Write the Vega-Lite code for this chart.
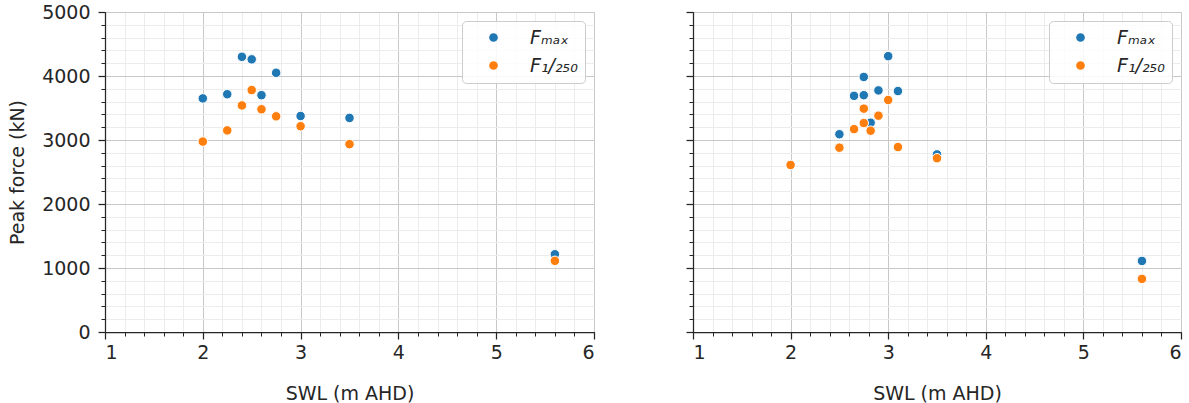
{
  "$schema": "https://vega.github.io/schema/vega-lite/v6.json",
  "padding": {"left": 8, "top": 3, "right": 3, "bottom": 0},
  "config": {
    "view": {"stroke": null},
    "font": "DejaVu Sans",
    "axis": {"labelColor": "#262626", "titleColor": "#262626", "tickColor": "#262626", "domainColor": "#262626", "titleFontWeight": "normal"},
    "legend": {"title": " ", "titleOrient": "left", "titleFontSize": 1, "titlePadding": 15, "orient": "top-right", "offset": 9, "padding": 7, "fillColor": "rgba(255,255,255,0.85)", "strokeColor": "#cccccc", "cornerRadius": 4, "symbolType": "circle", "symbolSize": 75, "symbolStrokeWidth": 0, "labelFontSize": 19, "labelFontStyle": "italic", "labelOffset": 27, "rowPadding": 8, "labelColor": "#262626"}
  },
  "datasets": {
    "left": [
      {"swl": 2.0, "force": 3650, "series": "Fₘₐₓ"},
      {"swl": 2.25, "force": 3715, "series": "Fₘₐₓ"},
      {"swl": 2.4, "force": 4300, "series": "Fₘₐₓ"},
      {"swl": 2.5, "force": 4260, "series": "Fₘₐₓ"},
      {"swl": 2.6, "force": 3700, "series": "Fₘₐₓ"},
      {"swl": 2.75, "force": 4050, "series": "Fₘₐₓ"},
      {"swl": 3.0, "force": 3375, "series": "Fₘₐₓ"},
      {"swl": 3.5, "force": 3345, "series": "Fₘₐₓ"},
      {"swl": 5.6, "force": 1215, "series": "Fₘₐₓ"},
      {"swl": 2.0, "force": 2975, "series": "F₁/₂₅₀"},
      {"swl": 2.25, "force": 3150, "series": "F₁/₂₅₀"},
      {"swl": 2.4, "force": 3540, "series": "F₁/₂₅₀"},
      {"swl": 2.5, "force": 3780, "series": "F₁/₂₅₀"},
      {"swl": 2.6, "force": 3480, "series": "F₁/₂₅₀"},
      {"swl": 2.75, "force": 3370, "series": "F₁/₂₅₀"},
      {"swl": 3.0, "force": 3215, "series": "F₁/₂₅₀"},
      {"swl": 3.5, "force": 2935, "series": "F₁/₂₅₀"},
      {"swl": 5.6, "force": 1112, "series": "F₁/₂₅₀"}
    ],
    "right": [
      {"swl": 2.5, "force": 3090, "series": "Fₘₐₓ"},
      {"swl": 2.65, "force": 3690, "series": "Fₘₐₓ"},
      {"swl": 2.75, "force": 3985, "series": "Fₘₐₓ"},
      {"swl": 2.75, "force": 3700, "series": "Fₘₐₓ"},
      {"swl": 2.82, "force": 3270, "series": "Fₘₐₓ"},
      {"swl": 2.9, "force": 3775, "series": "Fₘₐₓ"},
      {"swl": 3.0, "force": 4310, "series": "Fₘₐₓ"},
      {"swl": 3.1, "force": 3765, "series": "Fₘₐₓ"},
      {"swl": 3.5, "force": 2775, "series": "Fₘₐₓ"},
      {"swl": 5.6, "force": 1110, "series": "Fₘₐₓ"},
      {"swl": 2.0, "force": 2610, "series": "F₁/₂₅₀"},
      {"swl": 2.5, "force": 2880, "series": "F₁/₂₅₀"},
      {"swl": 2.65, "force": 3170, "series": "F₁/₂₅₀"},
      {"swl": 2.75, "force": 3265, "series": "F₁/₂₅₀"},
      {"swl": 2.75, "force": 3490, "series": "F₁/₂₅₀"},
      {"swl": 2.82, "force": 3145, "series": "F₁/₂₅₀"},
      {"swl": 2.9, "force": 3380, "series": "F₁/₂₅₀"},
      {"swl": 3.0, "force": 3625, "series": "F₁/₂₅₀"},
      {"swl": 3.1, "force": 2890, "series": "F₁/₂₅₀"},
      {"swl": 3.5, "force": 2715, "series": "F₁/₂₅₀"},
      {"swl": 5.6, "force": 830, "series": "F₁/₂₅₀"}
    ]
  },
  "spacing": 99,
  "bounds": "flush",
  "resolve": {"scale": {"color": "independent", "x": "independent", "y": "independent"}, "legend": {"color": "independent"}},
  "hconcat": [
    {
      "width": 489,
      "height": 320,
      "data": {"name": "left"},
      "layer": [
        {
          "mark": {"type": "point", "filled": true, "size": 90, "opacity": 1, "stroke": "white", "strokeWidth": 1},
          "encoding": {
            "x": {"field": "swl", "type": "quantitative", "scale": {"domain": [1, 6], "nice": false, "zero": false},
              "axis": {"orient": "bottom", "values": [1,1.2,1.4,1.6,1.8,2,2.2,2.4,2.6,2.8,3,3.2,3.4,3.6,3.8,4,4.2,4.4,4.6,4.8,5,5.2,5.4,5.6,5.8,6], "labels": false, "domain": false, "title": null, "tickSize": 4, "tickWidth": 1, "grid": true, "gridColor": "#ececec", "gridWidth": 1}},
            "y": {"field": "force", "type": "quantitative", "scale": {"domain": [0, 5000], "nice": false},
              "axis": {"orient": "left", "values": [0,200,400,600,800,1000,1200,1400,1600,1800,2000,2200,2400,2600,2800,3000,3200,3400,3600,3800,4000,4200,4400,4600,4800,5000], "labels": false, "domain": false, "title": null, "tickSize": 4, "tickWidth": 1, "grid": true, "gridColor": "#ececec", "gridWidth": 1}},
            "color": {"field": "series", "type": "nominal", "sort": null,
              "scale": {"domain": ["Fₘₐₓ", "F₁/₂₅₀"], "range": ["#1f77b4", "#ff7f0e"]},
              "legend": {"title": " "}}
          }
        },
        {
          "mark": {"type": "point", "opacity": 0},
          "encoding": {
            "x": {"field": "swl", "type": "quantitative", "scale": {"domain": [1, 6], "nice": false, "zero": false},
              "axis": {"orient": "bottom", "values": [1,2,3,4,5,6], "format": "d", "tickSize": 7, "tickWidth": 1.25, "domainWidth": 1.25, "labelFontSize": 19, "labelPadding": 4, "title": "SWL (m AHD)", "titleFontSize": 19, "titlePadding": 22, "grid": true, "gridColor": "#c8c8c8", "gridWidth": 1}},
            "y": {"field": "force", "type": "quantitative", "scale": {"domain": [0, 5000], "nice": false},
              "axis": {"orient": "left", "values": [0,1000,2000,3000,4000,5000], "format": "d", "tickSize": 7, "tickWidth": 1.25, "domainWidth": 1.25, "labelFontSize": 19, "labelPadding": 8, "title": "Peak force (kN)", "titleFontSize": 19, "titlePadding": 14.5, "grid": true, "gridColor": "#c8c8c8", "gridWidth": 1}}
          }
        }
      ],
      "resolve": {"axis": {"x": "independent", "y": "independent"}}
    },
    {
      "width": 488,
      "height": 320,
      "data": {"name": "right"},
      "layer": [
        {
          "mark": {"type": "point", "filled": true, "size": 90, "opacity": 1, "stroke": "white", "strokeWidth": 1},
          "encoding": {
            "x": {"field": "swl", "type": "quantitative", "scale": {"domain": [1, 6], "nice": false, "zero": false},
              "axis": {"orient": "bottom", "values": [1,1.2,1.4,1.6,1.8,2,2.2,2.4,2.6,2.8,3,3.2,3.4,3.6,3.8,4,4.2,4.4,4.6,4.8,5,5.2,5.4,5.6,5.8,6], "labels": false, "domain": false, "title": null, "tickSize": 4, "tickWidth": 1, "grid": true, "gridColor": "#ececec", "gridWidth": 1}},
            "y": {"field": "force", "type": "quantitative", "scale": {"domain": [0, 5000], "nice": false},
              "axis": {"orient": "left", "values": [0,200,400,600,800,1000,1200,1400,1600,1800,2000,2200,2400,2600,2800,3000,3200,3400,3600,3800,4000,4200,4400,4600,4800,5000], "labels": false, "domain": false, "title": null, "tickSize": 4, "tickWidth": 1, "grid": true, "gridColor": "#ececec", "gridWidth": 1}},
            "color": {"field": "series", "type": "nominal", "sort": null,
              "scale": {"domain": ["Fₘₐₓ", "F₁/₂₅₀"], "range": ["#1f77b4", "#ff7f0e"]},
              "legend": {"title": " "}}
          }
        },
        {
          "mark": {"type": "point", "opacity": 0},
          "encoding": {
            "x": {"field": "swl", "type": "quantitative", "scale": {"domain": [1, 6], "nice": false, "zero": false},
              "axis": {"orient": "bottom", "values": [1,2,3,4,5,6], "format": "d", "tickSize": 7, "tickWidth": 1.25, "domainWidth": 1.25, "labelFontSize": 19, "labelPadding": 4, "title": "SWL (m AHD)", "titleFontSize": 19, "titlePadding": 22, "grid": true, "gridColor": "#c8c8c8", "gridWidth": 1}},
            "y": {"field": "force", "type": "quantitative", "scale": {"domain": [0, 5000], "nice": false},
              "axis": {"orient": "left", "values": [0,1000,2000,3000,4000,5000], "labels": false, "tickSize": 7, "tickWidth": 1.25, "domainWidth": 1.25, "title": null, "grid": true, "gridColor": "#c8c8c8", "gridWidth": 1}}
          }
        }
      ],
      "resolve": {"axis": {"x": "independent", "y": "independent"}}
    }
  ]
}
